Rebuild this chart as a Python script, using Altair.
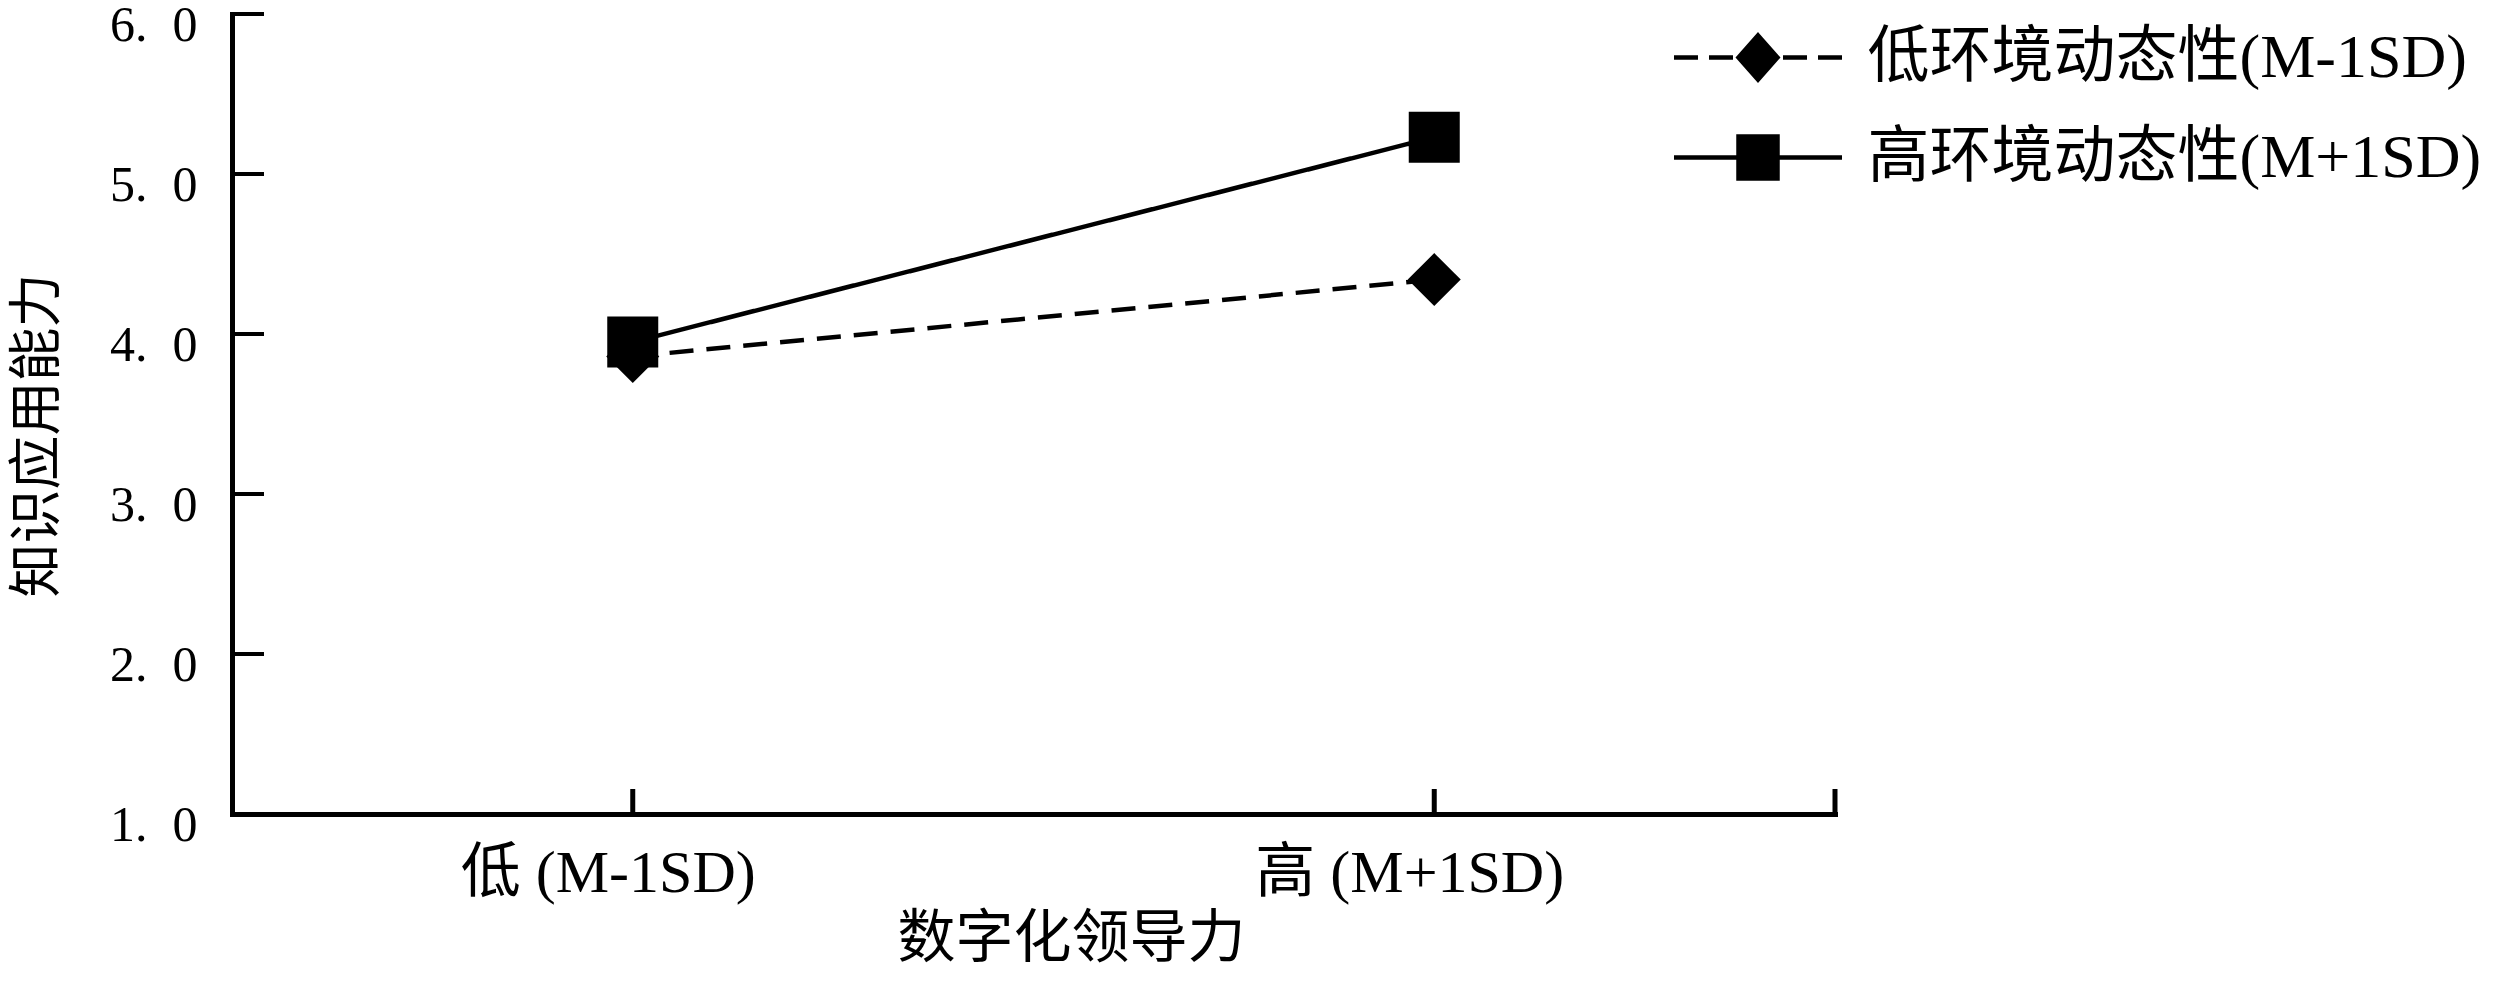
import altair as alt
import pandas as pd

# ---------------- data ----------------
x_levels = [1, 2]
x_labels = ["低 (M-1SD)", "高 (M+1SD)"]
x_tick_positions = [1, 2, 2.5]
x_domain = [0.5, 2.5]

groups = ["低环境动态性(M-1SD)", "高环境动态性(M+1SD)"]
low_env_values = [3.86, 4.34]
high_env_values = [3.95, 5.23]

y_ticks = [1, 2, 3, 4, 5, 6]
y_tick_labels = ["1. \u00a00", "2. \u00a00", "3. \u00a00", "4. \u00a00", "5. \u00a00", "6. \u00a00"]
y_domain = [1, 6]

x_title = "数字化领导力"
y_title = "知识应用能力"

# ---------------- styling ----------------
FONT = "Liberation Serif, Noto Sans CJK SC"
W, H = 1603, 800

# legend symbol geometry (path units: 1 unit = sqrt(LEG_SIZE)/2 px)
LEG_SIZE = 10000
U = 50.0            # px per path unit
HALF_LEN = 84 / U   # half length of legend line


def diamond_path(hw, hh, step=3.4 / U):
    parts = []
    w = hw
    while w > 0:
        h = hh * w / hw
        parts.append(f"M0,{-h:.3f}L{w:.3f},0L0,{h:.3f}L{-w:.3f},0Z")
        w -= step
    return "".join(parts)


def square_path(hw, hh, step=3.4 / U):
    parts = []
    w = hw
    while w > 0:
        h = hh * w / hw
        parts.append(f"M{-w:.3f},{-h:.3f}L{w:.3f},{-h:.3f}L{w:.3f},{h:.3f}L{-w:.3f},{h:.3f}Z")
        w -= step
    return "".join(parts)


def dashed_line(half, dash=24 / U, gap=11 / U, inner=25 / U):
    segs = []
    pos = inner
    while pos < half:
        end = min(pos + dash, half)
        segs.append((pos, end))
        pos = end + gap
    out = ""
    for a, b in segs:
        out += f"M{a:.3f},0L{b:.3f},0M{-a:.3f},0L{-b:.3f},0"
    return out


legend_paths = [
    dashed_line(HALF_LEN) + diamond_path(19.5 / U, 22 / U),
    f"M{-HALF_LEN:.3f},0L{HALF_LEN:.3f},0" + square_path(19.5 / U, 21 / U),
]

rows = []
for g, vals in zip(groups, [low_env_values, high_env_values]):
    for xv, v in zip(x_levels, vals):
        rows.append({"group": g, "x": xv, "y": v})
df = pd.DataFrame(rows)
ytick_df = pd.DataFrame({"y": y_ticks})
xtick_df = pd.DataFrame({"x": x_tick_positions})


def label_expr(values, labels):
    parts = [f"datum.value == {v} ? '{l}'" for v, l in zip(values, labels)]
    return " : ".join(parts) + " : ''"


x_enc = alt.X(
    "x:Q",
    scale=alt.Scale(domain=x_domain, nice=False, zero=False),
    axis=alt.Axis(
        values=x_levels,
        labelExpr=label_expr(x_levels, x_labels),
        title=x_title,
        ticks=False,
        tickSize=0,
        grid=False,
        domainColor="black",
        domainWidth=5,
        domainCap="square",
        labelFont=FONT,
        labelFontSize=60,
        labelColor="black",
        labelBaseline="alphabetic",
        labelPadding=77,
        labelOffset=-25,
        labelFlush=False,
        labelOverlap=False,
        labelLimit=1000,
        titleFont=FONT,
        titleFontSize=58,
        titleFontWeight="normal",
        titleColor="black",
        titleX=839,
        titleY=142,
        titleAlign="center",
        titleBaseline="alphabetic",
        titleLimit=2000,
    ),
)

y_enc = alt.Y(
    "y:Q",
    scale=alt.Scale(domain=y_domain, nice=False, zero=False),
    axis=alt.Axis(
        values=y_ticks,
        labelExpr=label_expr(y_ticks, y_tick_labels),
        title=y_title,
        ticks=False,
        tickSize=0,
        grid=False,
        domainColor="black",
        domainWidth=5,
        domainCap="square",
        labelFont=FONT,
        labelFontSize=50,
        labelColor="black",
        labelPadding=35,
        labelOffset=11,
        labelBaseline="middle",
        labelOverlap=False,
        labelLimit=1000,
        titleFont=FONT,
        titleFontSize=54,
        titleFontWeight="normal",
        titleColor="black",
        titleX=-194,
        titleY=421,
        titleAngle=270,
        titleAlign="center",
        titleBaseline="middle",
        titleLimit=2000,
    ),
)

y_ticks_layer = alt.Chart(ytick_df).mark_tick(
    orient="horizontal", size=32, thickness=4, color="black", opacity=1
).encode(y=y_enc, x=alt.value(16))

x_ticks_layer = alt.Chart(xtick_df).mark_tick(
    orient="vertical", size=25, thickness=5, color="black", opacity=1
).encode(x=x_enc, y=alt.value(H - 12.5))

lines = alt.Chart(df).mark_line(color="black", strokeWidth=4.5).encode(
    x=x_enc,
    y=y_enc,
    detail="group:N",
    strokeDash=alt.StrokeDash(
        "group:N",
        scale=alt.Scale(domain=groups, range=[[24, 13], [1, 0]]),
        legend=None,
    ),
)

points = alt.Chart(df).mark_point(filled=True, color="black", opacity=1, strokeWidth=0).encode(
    x=x_enc,
    y=y_enc,
    shape=alt.Shape(
        "group:N", scale=alt.Scale(domain=groups, range=["diamond", "square"]), legend=None
    ),
    size=alt.Size("group:N", scale=alt.Scale(domain=groups, range=[2809, 2601]), legend=None),
)

legend_layer = alt.Chart(df).mark_point(
    filled=False, color="black", opacity=0, strokeWidth=4
).encode(
    x=x_enc,
    y=y_enc,
    shape=alt.Shape(
        "group:N",
        scale=alt.Scale(domain=groups, range=legend_paths),
        legend=alt.Legend(
            title=None,
            orient="none",
            legendX=1440,
            legendY=-9,
            padding=0,
            symbolSize=LEG_SIZE,
            symbolOffset=33.5,
            symbolStrokeWidth=4.5,
            symbolStrokeColor="black",
            symbolFillColor="black",
            symbolOpacity=1,
            labelFont=FONT,
            labelFontSize=62,
            labelColor="black",
            labelOffset=57,
            labelLimit=1000,
            rowPadding=16,
        ),
    ),
)

chart = (
    alt.layer(y_ticks_layer, x_ticks_layer, lines, points, legend_layer)
    .resolve_scale(shape="independent")
    .properties(
        width=W,
        height=H,
        padding={"left": 224, "top": 6, "right": 657, "bottom": 160},
        autosize=alt.AutoSizeParams(type="none"),
        background="white",
    )
    .configure_view(strokeWidth=0)
)

chart.save("out.html", embed_options={"renderer": "svg", "actions": False})
